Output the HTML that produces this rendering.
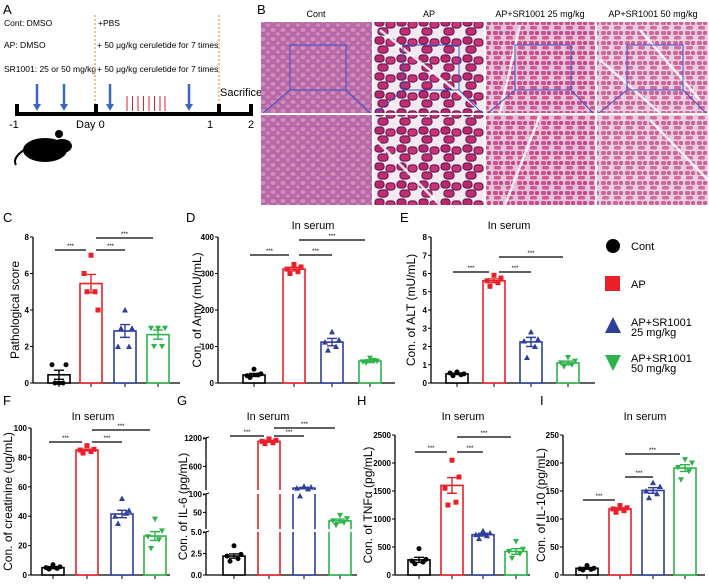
<!DOCTYPE html>
<html><head><meta charset="utf-8"><style>
html,body{margin:0;padding:0;background:#fff}
svg{display:block;font-family:"Liberation Sans",Arial,sans-serif}
</style></head><body>
<svg id="fig" width="709" height="585" viewBox="0 0 709 585" xmlns="http://www.w3.org/2000/svg">
<defs>
<pattern id="pCont" width="10" height="9" patternUnits="userSpaceOnUse"><rect width="10" height="9" fill="#b46aa6"/><ellipse cx="3" cy="3" rx="2.6" ry="2" fill="#d88abb"/><ellipse cx="8" cy="7" rx="2.3" ry="1.8" fill="#d385b8"/></pattern>
<pattern id="pAP" width="22" height="18" patternUnits="userSpaceOnUse"><rect width="22" height="18" fill="#f3eaf1"/><rect x="1" y="1" width="9" height="7" rx="3" fill="#b8286a" stroke="#6e1a55" stroke-width="1.2"/><rect x="12" y="3" width="9" height="7" rx="3" fill="#c83476" stroke="#6e1a55" stroke-width="1.2"/><rect x="4" y="10" width="10" height="7" rx="3" fill="#c02e70" stroke="#6e1a55" stroke-width="1.2"/></pattern>
<pattern id="p25" width="12" height="10" patternUnits="userSpaceOnUse"><rect width="12" height="10" fill="#e6c2da"/><rect x="1" y="1" width="5" height="4" rx="1.5" fill="#cd4f8d"/><rect x="7" y="1" width="4" height="4" rx="1.5" fill="#c74687"/><rect x="2" y="6" width="7" height="3.5" rx="1.5" fill="#d2588f"/></pattern>
<pattern id="p50" width="12" height="10" patternUnits="userSpaceOnUse"><rect width="12" height="10" fill="#ebcde0"/><rect x="1" y="1" width="5" height="4" rx="1.5" fill="#d0679c"/><rect x="7" y="1" width="4" height="4" rx="1.5" fill="#cb5f97"/><rect x="2" y="6" width="7" height="3.5" rx="1.5" fill="#d46c9f"/></pattern>
</defs>

<!-- Panel A -->
<g font-size="8.5">
<text x="3" y="14" font-size="13">A</text>
<text x="4" y="26">Cont: DMSO</text>
<text x="4" y="48">AP: DMSO</text>
<text x="4" y="72">SR1001: 25 or 50 mg/kg</text>
<text x="98" y="26">+PBS</text>
<text x="97" y="48">+ 50 μg/kg ceruletide for 7 times</text>
<text x="97" y="72">+ 50 μg/kg ceruletide for 7 times</text>
<line x1="95" y1="15" x2="95" y2="104" stroke="#f07a2a" stroke-dasharray="2,2"/>
<line x1="219" y1="15" x2="219" y2="104" stroke="#f07a2a" stroke-dasharray="2,2"/>
<text x="220" y="96" font-size="11">Sacrifice</text>
<rect x="15" y="112" width="238" height="4" fill="#000"/>
<rect x="15" y="104" width="4" height="10" fill="#000"/><rect x="94" y="104" width="4" height="10" fill="#000"/><rect x="217" y="104" width="4" height="10" fill="#000"/><rect x="249" y="104" width="4" height="10" fill="#000"/>
<text x="9" y="128" font-size="11">-1</text><text x="76" y="128" font-size="11">Day 0</text><text x="207" y="128" font-size="11">1</text><text x="248" y="128" font-size="11">2</text>
<g stroke="#3b66c4" stroke-width="2.5" fill="#3b66c4">
<line x1="37" y1="84" x2="37" y2="106"/><polygon points="33,104 41,104 37,111" stroke="none"/>
<line x1="64" y1="84" x2="64" y2="106"/><polygon points="60,104 68,104 64,111" stroke="none"/>
<line x1="110" y1="84" x2="110" y2="106"/><polygon points="106,104 114,104 110,111" stroke="none"/>
<line x1="189" y1="84" x2="189" y2="106"/><polygon points="185,104 193,104 189,111" stroke="none"/>
</g>
<g stroke="#e0203a" stroke-width="1">
<path d="M127 96V111M132.5 96V111M138 96V111M143.5 96V111M149 96V111M154.5 96V111M160 96V111M165 96V111"/>
</g>
<g fill="#000">
<ellipse cx="45" cy="150" rx="22" ry="12"/><ellipse cx="62" cy="146" rx="10" ry="7"/><circle cx="59" cy="134" r="4"/><path d="M24 150 Q12 158 16 165" stroke="#000" stroke-width="2" fill="none"/>
</g>
</g>

<!-- Panel B -->
<g>
<text x="257" y="14" font-size="13">B</text>
<g font-size="9" text-anchor="middle">
<text x="316" y="17">Cont</text><text x="429" y="17">AP</text><text x="540" y="17">AP+SR1001 25 mg/kg</text><text x="653" y="17">AP+SR1001 50 mg/kg</text>
</g>
<rect x="261" y="22" width="111" height="91" fill="url(#pCont)"/>
<rect x="374" y="22" width="110" height="91" fill="url(#pAP)"/>
<rect x="486" y="22" width="109" height="91" fill="url(#p25)"/>
<rect x="597" y="22" width="111" height="91" fill="url(#p50)"/>
<rect x="261" y="115" width="111" height="90" fill="url(#pCont)"/>
<rect x="374" y="115" width="110" height="90" fill="url(#pAP)"/>
<rect x="486" y="115" width="109" height="90" fill="url(#p25)"/>
<rect x="597" y="115" width="111" height="90" fill="url(#p50)"/>
<g fill="none" stroke="#fff" stroke-width="2.5" opacity="0.85">
<path d="M380 30L480 110M520 25L500 113M640 30L700 100M600 60L660 113"/>
<path d="M376 140L440 205M540 115L505 205M650 120L708 180"/>
</g>
<g fill="none" stroke="#3a55c8" stroke-width="1">
<rect x="290" y="45" width="56" height="45"/><path d="M290 90L263 113M346 90L370 113"/>
<rect x="403" y="45" width="56" height="45"/><path d="M403 90L376 113M459 90L482 113"/>
<rect x="515" y="45" width="56" height="45"/><path d="M515 90L488 113M571 90L593 113"/>
<rect x="627" y="45" width="56" height="45"/><path d="M627 90L599 113M683 90L706 113"/>
</g>
</g>

<!-- Legend -->
<g font-size="11">
<g><circle cx="613" cy="246" r="7"/><text x="631" y="250">Cont</text></g>
<g><rect x="605" y="276" width="15" height="15" fill="#e8202a"/><text x="631" y="288">AP</text></g>
<g><polygon points="613,317 605,333 621,333" fill="#2e3e9c"/><text x="631" y="326">AP+SR1001</text><text x="631" y="336">25 mg/kg</text></g>
<g><polygon points="605,355 621,355 613,371" fill="#2db34a"/><text x="631" y="362">AP+SR1001</text><text x="631" y="372">50 mg/kg</text></g>
</g>
<g id="charts"></g>
</svg>
<script>
// ---- Data ----
const groups = ["Cont","AP","AP+SR1001 25 mg/kg","AP+SR1001 50 mg/kg"];
const C_means = [0.45, 5.45, 2.85, 2.65];
const C_sem = [0.25, 0.5, 0.35, 0.25];
const C_pts = [[1,0,0,0,1],[6,5,7,5,4],[2,3,4,2,3],[3,2,3,2,3]];
const C_ticks = [0,2,4,6,8];
const D_means = [22, 312, 112, 60];
const D_sem = [4, 5, 10, 4];
const D_pts = [[20,15,38,22,25],[312,300,325,305,318],[112,90,140,100,118],[58,55,68,62,60]];
const D_ticks = [0,100,200,300,400];
const E_means = [0.5, 5.6, 2.25, 1.1];
const E_sem = [0.04, 0.1, 0.25, 0.1];
const E_pts = [[0.55,0.4,0.6,0.45,0.5],[5.6,5.3,5.9,5.5,5.75],[2.3,1.4,2.8,2.0,2.4],[1.1,0.9,1.4,1.0,1.2]];
const E_ticks = [0,1,2,3,4,5,6,7,8];
const F_means = [5, 85, 41.5, 26.5];
const F_sem = [0.7, 0.6, 2.5, 3];
const F_pts = [[5,4,7,4.5,5.5],[85,83,88,84,85.5],[40,35,52,42,44],[26,18,38,24,30]];
const F_ticks = [0,20,40,60,80,100];
const G_means = [2.2, 1130, 140, 27];
const G_sem = [0.25, 20, 15, 5];
const G_pts = [[2.2,1.6,3.4,1.9,2.4],[1130,1080,1180,1100,1150],[140,95,180,125,160],[27,15,42,22,33]];
const G_ticks = [0,2.5,5.0,50,100,600,1200];
const G_tickText = ["0.0","2.5","5.0","50","100","600","1200"];
const H_means = [270, 1600, 720, 420];
const H_sem = [45, 140, 25, 50];
const H_pts = [[250,200,470,230,280],[1550,1250,2050,1300,1750],[720,650,790,700,750],[420,300,600,380,460]];
const H_ticks = [0,500,1000,1500,2000,2500];
const I_means = [12, 118, 151, 191];
const I_sem = [1.5, 2, 5, 6];
const I_pts = [[11,9,17,10,12],[118,112,124,115,120],[150,138,165,145,158],[192,170,206,185,200]];
const I_ticks = [0,50,100,150,200,250];

const colors = ["#000000","#e8202a","#2e3e9c","#2db34a"];
const xoff = [-7,-4,0,4,7];
const NS = "http://www.w3.org/2000/svg";
const root = document.getElementById("charts");
function el(tag, attrs, parent){const e=document.createElementNS(NS,tag);for(const k in attrs)e.setAttribute(k,attrs[k]);(parent||root).appendChild(e);return e;}

function marker(g, gi, x, y){
  let m;
  if(gi===0) m=el("circle",{cx:x,cy:y,r:2.5,fill:colors[0]},g);
  else if(gi===1) m=el("rect",{x:x-2.5,y:y-2.5,width:5,height:5,fill:colors[1]},g);
  else if(gi===2) m=el("polygon",{points:`${x},${y-3} ${x-3},${y+2.5} ${x+3},${y+2.5}`,fill:colors[2]},g);
  else m=el("polygon",{points:`${x-3},${y-2.5} ${x+3},${y-2.5} ${x},${y+3}`,fill:colors[3]},g);
  
  
}

function chart(c){
  const g = el("g",{});
  
  
  const sy = c.scale || (v => c.y0 - (v/c.max)*(c.y0-c.y1));
  const lab = el("text",{x:c.lx,y:c.ly,"font-size":13},g); lab.textContent=c.label;
  
  
  if(c.title){const t=el("text",{x:c.tx,y:c.ty,"font-size":11,"text-anchor":"middle"},g);t.textContent=c.title;
    
    }
  const yt = el("text",{transform:`translate(${c.ytx},${(c.y0+c.y1)/2}) rotate(-90)`,"font-size":12,"text-anchor":"middle"},g);
  yt.textContent=c.ytitle;
  
  
  const ya = c.segments ? null : el("line",{x1:c.ax,y1:c.y1,x2:c.ax,y2:c.y0,stroke:"#000","stroke-width":1.3},g);
  if(ya){}
  if(c.segments){ c.segments.forEach(s=>{const l=el("line",{x1:c.ax,y1:s[0],x2:c.ax,y2:s[1],stroke:"#000","stroke-width":1.3},g);
    
    el("line",{x1:c.ax-3,y1:s[0]+1,x2:c.ax+3,y2:s[0]-1,stroke:"#000","stroke-width":1},g);}); }
  const xa = el("line",{x1:c.ax,y1:c.y0,x2:c.xend,y2:c.y0,stroke:"#000","stroke-width":1.3},g);
  
  
  c.ticks.forEach((t,i)=>{
    const y=sy(t);
    el("line",{x1:c.ax-3,y1:y,x2:c.ax,y2:y,stroke:"#000"},g);
    const tx=el("text",{x:c.ax-4,y:y+3,"font-size":8,"font-weight":"bold","text-anchor":"end"},g);
    tx.textContent = c.tickText ? c.tickText[i] : t;
    
    
  });
  c.cx.forEach((x,i)=>{
    el("line",{x1:x,y1:c.y0,x2:x,y2:c.y0+4,stroke:"#000"},g);
    const top = sy(c.means[i]);
    const bar = el("rect",{x:x-11,y:top,width:22,height:c.y0-top,fill:"#fff",stroke:colors[i],"stroke-width":1.6},g);
    
    
    if(c.gaps){ c.gaps.forEach(gp=>{ if(top<gp[0]) el("rect",{x:x-13,y:gp[0]-gp[1],width:26,height:gp[1],fill:"#fff"},g); }); }
    c.pts[i].forEach((v,k)=>marker(g,i,x+xoff[k],sy(v)));
    const hi=sy(c.means[i]+c.sem[i]), lo=sy(Math.max(0,c.means[i]-c.sem[i]));
    const eb=el("path",{d:`M${x} ${hi}V${lo}M${x-5} ${hi}H${x+5}M${x-5} ${lo}H${x+5}`,stroke:colors[i],"stroke-width":1.4,fill:"none"},g);
    
    
  });
  c.sig.forEach(s=>{
    const x1 = s[0]===0 ? c.cx[0]-4 : c.cx[s[0]]+5;
    const x2 = s[1]===2 && s[0]===1 ? c.cx[2] : c.cx[s[1]]-5;
    const l=el("line",{x1:x1,y1:s[2],x2:x2,y2:s[2],stroke:"#000","stroke-width":1.2},g);
    
    
    const t=el("text",{x:(x1+x2)/2,y:s[2]-2,"font-size":6,"text-anchor":"middle"},g); t.textContent="***";
    
    
  });
}

chart({name:"chart-pathological-score",label:"C",lx:3,ly:222,ytitle:"Pathological score",ytx:19,ax:33,xend:180,y0:383,y1:237,max:8,
  ticks:C_ticks,means:C_means,sem:C_sem,pts:C_pts,cx:[59,91,125,158],sig:[[0,1,250],[1,2,250],[1,3,238]]});
chart({name:"chart-amylase",label:"D",lx:186,ly:222,title:"In serum",tx:313,ty:229,ytitle:"Con. of Amy (mU/mL)",ytx:201,ax:218,xend:395,y0:383,y1:237,max:400,
  ticks:D_ticks,means:D_means,sem:D_sem,pts:D_pts,cx:[254,294,332,370],sig:[[0,1,255],[1,2,255],[1,3,240]]});
chart({name:"chart-alt",label:"E",lx:400,ly:222,title:"In serum",tx:509,ty:229,ytitle:"Con. of ALT (mU/mL)",ytx:415,ax:431,xend:595,y0:383,y1:237,max:8,
  ticks:E_ticks,means:E_means,sem:E_sem,pts:E_pts,cx:[457,494,531,568],sig:[[0,1,272],[1,2,272],[1,3,257]]});
chart({name:"chart-creatinine",label:"F",lx:3,ly:405,title:"In serum",tx:93,ty:420,ytitle:"Con. of creatinine (ug/mL)",ytx:12,ax:31,xend:170,y0:575,y1:428,max:100,
  ticks:F_ticks,means:F_means,sem:F_sem,pts:F_pts,cx:[53,87,122,155],sig:[[0,1,442],[1,2,442],[1,3,430]]});
function gScale(v){
  if(v<=5) return 575 - v/5*43;
  if(v<=100) return 529 - (v-5)/95*35;
  return 490 - (v-100)/1100*52;
}
chart({name:"chart-il6",label:"G",lx:177,ly:405,title:"In serum",tx:268,ty:420,ytitle:"Con. of IL-6 (pg/mL)",ytx:187,ax:206,xend:357,y0:575,y1:438,scale:gScale,
  segments:[[532,575],[494,529],[438,490]],gaps:[[532,3],[494,4]],
  ticks:G_ticks,tickText:G_tickText,means:G_means,sem:G_sem,pts:G_pts,cx:[234,269,304,340],sig:[[0,1,436],[1,2,436],[1,3,428]]});
chart({name:"chart-tnfa",label:"H",lx:357,ly:405,title:"In serum",tx:463,ty:420,ytitle:"Con. of TNFα (pg/mL)",ytx:372,ax:395,xend:530,y0:575,y1:435,max:2500,
  ticks:H_ticks,means:H_means,sem:H_sem,pts:H_pts,cx:[419,452,483,516],sig:[[0,1,452],[1,2,452],[1,3,437]]});
chart({name:"chart-il10",label:"I",lx:540,ly:405,title:"In serum",tx:645,ty:420,ytitle:"Con. of IL-10 (pg/mL)",ytx:545,ax:563,xend:705,y0:575,y1:435,max:250,
  ticks:I_ticks,means:I_means,sem:I_sem,pts:I_pts,cx:[587,620,653,685],sig:[[0,1,500],[1,2,477],[1,3,454]]});
</script>
</body></html>
